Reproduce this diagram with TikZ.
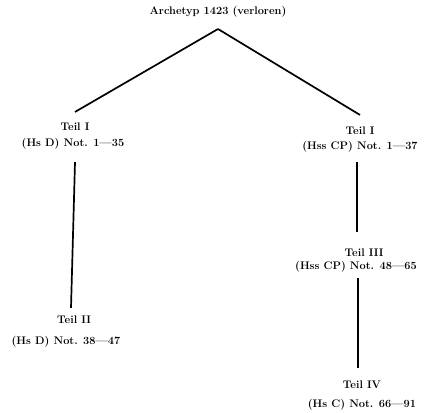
\documentclass[tikz,border=0pt]{standalone}
\usetikzlibrary{calc}
\begin{document}
\begin{tikzpicture}[x=1pt,y=-1pt,
  lbl/.style={inner sep=0pt,font=\fontsize{11}{13}\selectfont\bfseries},
  edge/.style={line width=1.7pt}]
\useasboundingbox (0,0) rectangle (424,413);
\node[lbl] (arch) at (218,12) {Archetyp 1423 (verloren)};
\coordinate (apex) at (218,29);
\node[lbl] (t1lt) at (75,127) {Teil I};
\node[lbl] (t1ld) at (73,144) {(Hs D) Not. 1---35};
\node[lbl] (t1rt) at (360,131) {Teil I};
\node[lbl] (t1rd) at (360,147) {(Hss CP) Not. 1---37};
\node[lbl] (t2t) at (74,320) {Teil II};
\node[lbl] (t2d) at (66,342) {(Hs D) Not. 38---47};
\node[lbl] (t3t) at (364,253) {Teil III};
\node[lbl] (t3d) at (356,267) {(Hss CP) Not. 48---65};
\node[lbl] (t4t) at (362,385) {Teil IV};
\node[lbl] (t4d) at (362,405) {(Hs C) Not. 66---91};
\draw[edge] (apex) -- ([shift={(0,-11)}]t1lt.north);
\draw[edge] (apex) -- ([shift={(0,-12)}]t1rt.north);
\draw[edge] ([shift={(2,12.5)}]t1ld.south) -- ([shift={(-3,-8)}]t2t.north);
\draw[edge] ([shift={(-3,9.5)}]t1rd.south) -- ([shift={(-7,-17)}]t3t.north);
\draw[edge] ([shift={(2,5.5)}]t3d.south) -- ([shift={(-4,-13)}]t4t.north);
\end{tikzpicture}
\end{document}
